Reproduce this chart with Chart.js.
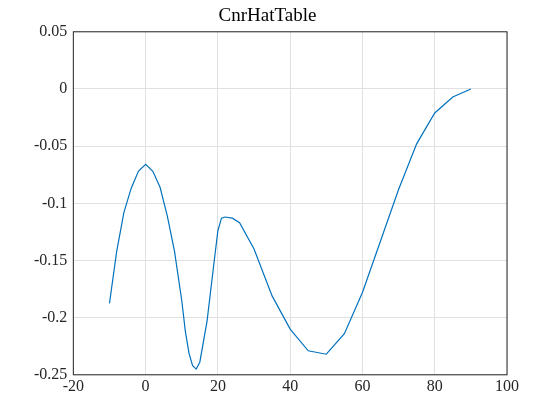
<!DOCTYPE html>
<html><head><meta charset="utf-8">
<script src="https://cdn.jsdelivr.net/npm/chart.js@4"></script>
<style>body{margin:0;background:#fff}#w{width:560px;height:420px}</style>
</head><body><div id="w"><canvas id="c"></canvas></div>
<script>
const xs=[-10,-8,-6,-4,-2,0,2,4,6,8,10,11,12,13,14,15,17,19,20,21,22,24,26,30,35,40,45,50,55,60,65,70,75,80,85,90];
const ys=[-0.1875,-0.142,-0.108,-0.087,-0.072,-0.066,-0.072,-0.086,-0.111,-0.142,-0.185,-0.212,-0.231,-0.242,-0.245,-0.239,-0.203,-0.15,-0.124,-0.113,-0.112,-0.113,-0.117,-0.14,-0.181,-0.21,-0.229,-0.232,-0.214,-0.178,-0.133,-0.088,-0.048,-0.021,-0.007,0];
const xTicks=[-20,0,20,40,60,80,100];
const yTicks=[0.05,0,-0.05,-0.1,-0.15,-0.2,-0.25];
const font={family:'"Liberation Serif"',size:16};
const frame={id:'frame',afterDraw(ch){const a=ch.chartArea,c=ch.ctx;c.save();c.strokeStyle='#262626';c.lineWidth=1;c.strokeRect(a.left,a.top,a.right-a.left,a.bottom-a.top);c.restore();}};
new Chart(document.getElementById('c'),{type:'line',
data:{datasets:[{data:xs.map((x,i)=>({x,y:ys[i]})),borderColor:'#0072BD',borderWidth:1.2,pointRadius:0,tension:0}]},
options:{animation:false,responsive:true,maintainAspectRatio:false,
layout:{padding:{left:28,right:53,top:1,bottom:22}},
plugins:{legend:{display:false},title:{display:true,text:'CnrHatTable',color:'#000',font:{family:'"Liberation Serif"',size:19,weight:'normal'},padding:{top:4,bottom:4}}},
scales:{
x:{type:'linear',min:-20,max:100,afterBuildTicks(s){s.ticks=xTicks.map(v=>({value:v}));},
 ticks:{color:'#262626',font,maxRotation:0,padding:2},grid:{color:'#e0e0e0',tickLength:0},border:{display:false}},
y:{type:'linear',min:-0.25,max:0.05,afterBuildTicks(s){s.ticks=yTicks.map(v=>({value:v}));},
 ticks:{color:'#262626',font,padding:6,callback:v=>String(Math.round(v*100)/100)},grid:{color:'#e0e0e0',tickLength:0},border:{display:false}}
}},plugins:[frame]});
</script></body></html>
